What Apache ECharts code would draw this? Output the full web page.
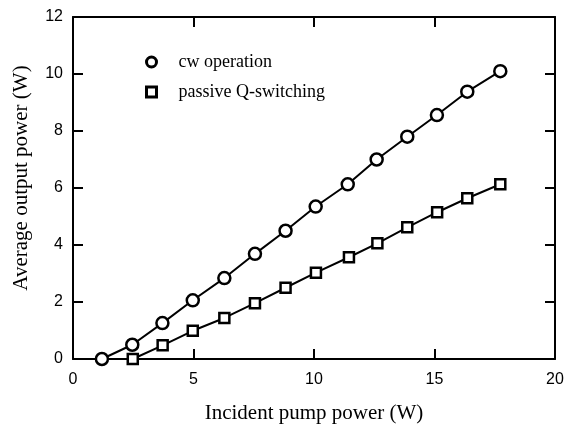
<!DOCTYPE html>
<html>
<head>
<meta charset="utf-8">
<script src="https://cdn.jsdelivr.net/npm/echarts@6/dist/echarts.min.js"></script>
<style>
  html, body { margin: 0; padding: 0; background: #fff; }
  #chart { width: 564px; height: 426px; }
</style>
</head>
<body>
<div id="chart"></div>
<script>
// cw operation
const cwPump = [1.2, 2.46, 3.71, 4.97, 6.28, 7.55, 8.82, 10.07, 11.4, 12.6, 13.87, 15.1, 16.36, 17.73]
const cwPower = [0, 0.5, 1.26, 2.06, 2.84, 3.69, 4.5, 5.35, 6.13, 7.0, 7.8, 8.56, 9.38, 10.1]

// passive Q-switching
const qsPump = [2.48, 3.72, 4.97, 6.28, 7.55, 8.82, 10.08, 11.45, 12.63, 13.87, 15.11, 16.36, 17.73]
const qsPower = [0, 0.48, 0.99, 1.44, 1.96, 2.5, 3.03, 3.57, 4.06, 4.62, 5.15, 5.64, 6.13]

const seriesNames = ['cw operation', 'passive Q-switching']

const serif = 'Liberation Serif'
const sans = 'Liberation Sans'

const chart = echarts.init(document.getElementById('chart'))

const frameAxis = {
  type: 'value',
  axisLine: { show: true, onZero: false, lineStyle: { color: '#000', width: 2 } },
  axisTick: { show: true, inside: true, length: 10, lineStyle: { color: '#000', width: 2 } },
  splitLine: { show: false }
}

const markerStyle = { color: '#fff', borderColor: '#000', borderWidth: 2.5 }

const toPairs = (xs, ys) => xs.map((x, i) => [x, ys[i]])

const option = {
  animation: false,
  backgroundColor: '#fff',
  grid: { left: 73, right: 9, top: 17, bottom: 67, outerBoundsMode: 'none' },
  legend: {
    orient: 'vertical',
    left: 140,
    top: 48,
    itemWidth: 10,
    itemHeight: 10,
    itemGap: 12,
    textStyle: { fontFamily: serif, fontSize: 18, color: '#000', padding: [0, 0, 0, 17] },
    data: [
      { name: seriesNames[0], icon: 'circle', itemStyle: { ...markerStyle, borderWidth: 3 } },
      { name: seriesNames[1], icon: 'rect', itemStyle: { ...markerStyle, borderWidth: 3 } }
    ]
  },
  xAxis: [
    {
      ...frameAxis,
      min: 0, max: 20, interval: 5,
      name: 'Incident pump power (W)',
      nameLocation: 'middle',
      nameGap: 44,
      nameTextStyle: { fontFamily: serif, fontSize: 21, color: '#000' },
      axisLabel: { fontFamily: sans, fontSize: 16, color: '#000', margin: 13 }
    },
    {
      ...frameAxis,
      position: 'top',
      min: 0, max: 20, interval: 5,
      axisLabel: { show: false }
    }
  ],
  yAxis: [
    {
      ...frameAxis,
      min: 0, max: 12, interval: 2,
      name: 'Average output power (W)',
      nameLocation: 'middle',
      nameGap: 41,
      nameTextStyle: { fontFamily: serif, fontSize: 21, color: '#000', padding: [0, 0, 0, 20] },
      axisLabel: { fontFamily: sans, fontSize: 16, color: '#000', margin: 10 }
    },
    {
      ...frameAxis,
      position: 'right',
      min: 0, max: 12, interval: 2,
      axisLabel: { show: false }
    }
  ],
  series: [
    {
      name: seriesNames[0],
      type: 'line',
      data: toPairs(cwPump, cwPower),
      symbol: 'circle',
      symbolSize: 12,
      lineStyle: { color: '#000', width: 2 },
      itemStyle: markerStyle
    },
    {
      name: seriesNames[1],
      type: 'line',
      data: toPairs(qsPump, qsPower),
      symbol: 'rect',
      symbolSize: 10,
      lineStyle: { color: '#000', width: 2 },
      itemStyle: markerStyle
    }
  ]
}

chart.setOption(option)
</script>
</body>
</html>
